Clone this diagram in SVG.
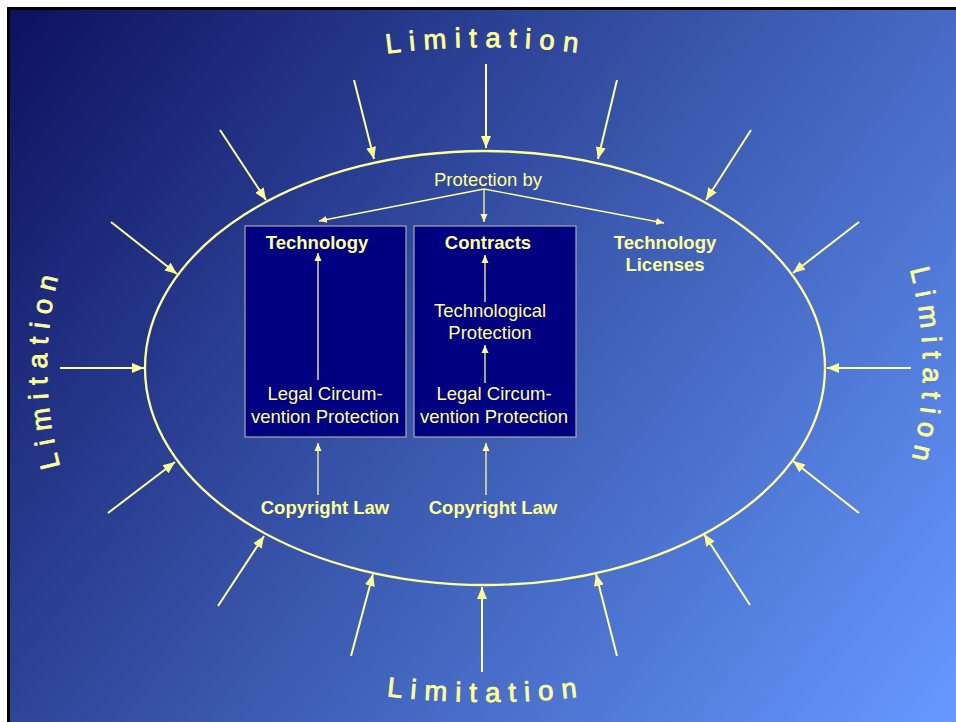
<svg xmlns="http://www.w3.org/2000/svg" width="956" height="722" viewBox="0 0 956 722">
  <defs>
    <linearGradient id="bg" gradientUnits="userSpaceOnUse" x1="10" y1="10" x2="956" y2="722">
      <stop offset="0" stop-color="#0E1160"/>
      <stop offset="0.5" stop-color="#3A58AE"/>
      <stop offset="1" stop-color="#6699FF"/>
    </linearGradient>
    <marker id="head" markerUnits="userSpaceOnUse" markerWidth="14" markerHeight="12" refX="12" refY="6" orient="auto">
      <path d="M0,1 L12,6 L0,11 z" fill="#FFFF99"/>
    </marker>
    <marker id="headSmall" markerUnits="userSpaceOnUse" markerWidth="9" markerHeight="8" refX="8" refY="4" orient="auto">
      <path d="M0,0.5 L8,4 L0,7.5 z" fill="#FFFF99"/>
    </marker>
    <path id="arcTop" d="M 370 56 Q 486 38 602 56"/>
    <path id="arcBottom" d="M 370 694 Q 486 710 602 694"/>
    <path id="arcLeft" d="M 64 480 Q 30 368 64 256"/>
    <path id="arcRight" d="M 906 256 Q 940 368 906 480"/>
    <style>
      .lim { font-family: "Liberation Sans", Arial, sans-serif; font-size: 27.5px; letter-spacing: 8.2px; fill: #FFFF99; stroke: #FFFF99; stroke-width: 0.8px; }
      .txt { font-family: "Liberation Sans", Arial, sans-serif; font-size: 18.5px; fill: #FFFF99; text-anchor: middle; }
      .bold { font-weight: bold; }
      .outer { stroke: #FFFF99; stroke-width: 2; fill: none; marker-end: url(#head); }
      .inner { stroke: #FFFF99; stroke-width: 1.3; fill: none; marker-end: url(#headSmall); }
      .box { fill: #000080; stroke: #A8A8A8; stroke-width: 1.2; }
    </style>
  </defs>

  <!-- page frame and background -->
  <rect x="0" y="0" width="956" height="722" fill="#FFFFFF"/>
  <rect x="7" y="7" width="949" height="715" fill="#000000"/>
  <rect x="10" y="10" width="946" height="712" fill="url(#bg)"/>

  <!-- boundary of protection -->
  <g id="boundary">
    <ellipse cx="485" cy="368" rx="340" ry="217" fill="none" stroke="#FFFF99" stroke-width="2.3"/>
  </g>

  <!-- limitation labels around the boundary -->
  <g id="limitation-top">
    <text class="lim"><textPath href="#arcTop" startOffset="50%" text-anchor="middle">Limitation</textPath></text>
  </g>
  <g id="limitation-bottom">
    <text class="lim"><textPath href="#arcBottom" startOffset="50%" text-anchor="middle">Limitation</textPath></text>
  </g>
  <g id="limitation-left">
    <text class="lim"><textPath href="#arcLeft" startOffset="50%" text-anchor="middle">Limitation</textPath></text>
  </g>
  <g id="limitation-right">
    <text class="lim"><textPath href="#arcRight" startOffset="50%" text-anchor="middle">Limitation</textPath></text>
  </g>

  <!-- protection nodes -->
  <g id="protection-by">
    <text class="txt" x="488" y="186">Protection by</text>
  </g>
  <g id="box-technology">
    <rect class="box" x="245" y="226" width="161" height="211"/>
    <text class="txt bold" x="317" y="249">Technology</text>
    <text class="txt" x="325" y="400">Legal Circum-</text>
    <text class="txt" x="325" y="423">vention Protection</text>
  </g>
  <g id="box-contracts">
    <rect class="box" x="414" y="226" width="162" height="211"/>
    <text class="txt bold" x="488" y="249">Contracts</text>
    <text class="txt" x="490" y="317">Technological</text>
    <text class="txt" x="490" y="339">Protection</text>
    <text class="txt" x="494" y="400">Legal Circum-</text>
    <text class="txt" x="494" y="423">vention Protection</text>
  </g>
  <g id="technology-licenses">
    <text class="txt bold" x="665" y="249">Technology</text>
    <text class="txt bold" x="665" y="271">Licenses</text>
  </g>
  <g id="copyright-law-1">
    <text class="txt bold" x="325" y="514">Copyright Law</text>
  </g>
  <g id="copyright-law-2">
    <text class="txt bold" x="493" y="514">Copyright Law</text>
  </g>

  <!-- connectors -->
  <g id="connectors">
    <!-- limitation arrows pressing on the boundary -->
    <line class="outer" x1="486" y1="64" x2="486" y2="148"/>
    <line class="outer" x1="354" y1="80" x2="374" y2="159"/>
    <line class="outer" x1="617" y1="80" x2="598" y2="159"/>
    <line class="outer" x1="220" y1="130" x2="266" y2="200"/>
    <line class="outer" x1="751" y1="130" x2="706" y2="200"/>
    <line class="outer" x1="111" y1="222" x2="177" y2="274"/>
    <line class="outer" x1="859" y1="222" x2="793" y2="273"/>
    <line class="outer" x1="60" y1="368" x2="144" y2="368"/>
    <line class="outer" x1="911" y1="368" x2="827" y2="368"/>
    <line class="outer" x1="108" y1="513" x2="175" y2="462"/>
    <line class="outer" x1="859" y1="513" x2="793" y2="461"/>
    <line class="outer" x1="218" y1="606" x2="264" y2="536"/>
    <line class="outer" x1="750" y1="605" x2="704" y2="534"/>
    <line class="outer" x1="351" y1="656" x2="373" y2="574"/>
    <line class="outer" x1="617" y1="656" x2="596" y2="574"/>
    <line class="outer" x1="482" y1="672" x2="482" y2="587" stroke-width="3"/>

    <!-- protection fan -->
    <line class="inner" x1="484" y1="189" x2="319" y2="221"/>
    <line class="inner" x1="484" y1="189" x2="484" y2="222"/>
    <line class="inner" x1="484" y1="189" x2="664" y2="223"/>

    <!-- inside boxes -->
    <line class="inner" x1="318" y1="380" x2="318" y2="253"/>
    <line class="inner" x1="485" y1="302" x2="485" y2="255"/>
    <line class="inner" x1="485" y1="383" x2="485" y2="345"/>

    <!-- copyright law into boxes -->
    <line class="inner" x1="318" y1="495" x2="318" y2="443"/>
    <line class="inner" x1="486" y1="495" x2="486" y2="443"/>
  </g>
</svg>
